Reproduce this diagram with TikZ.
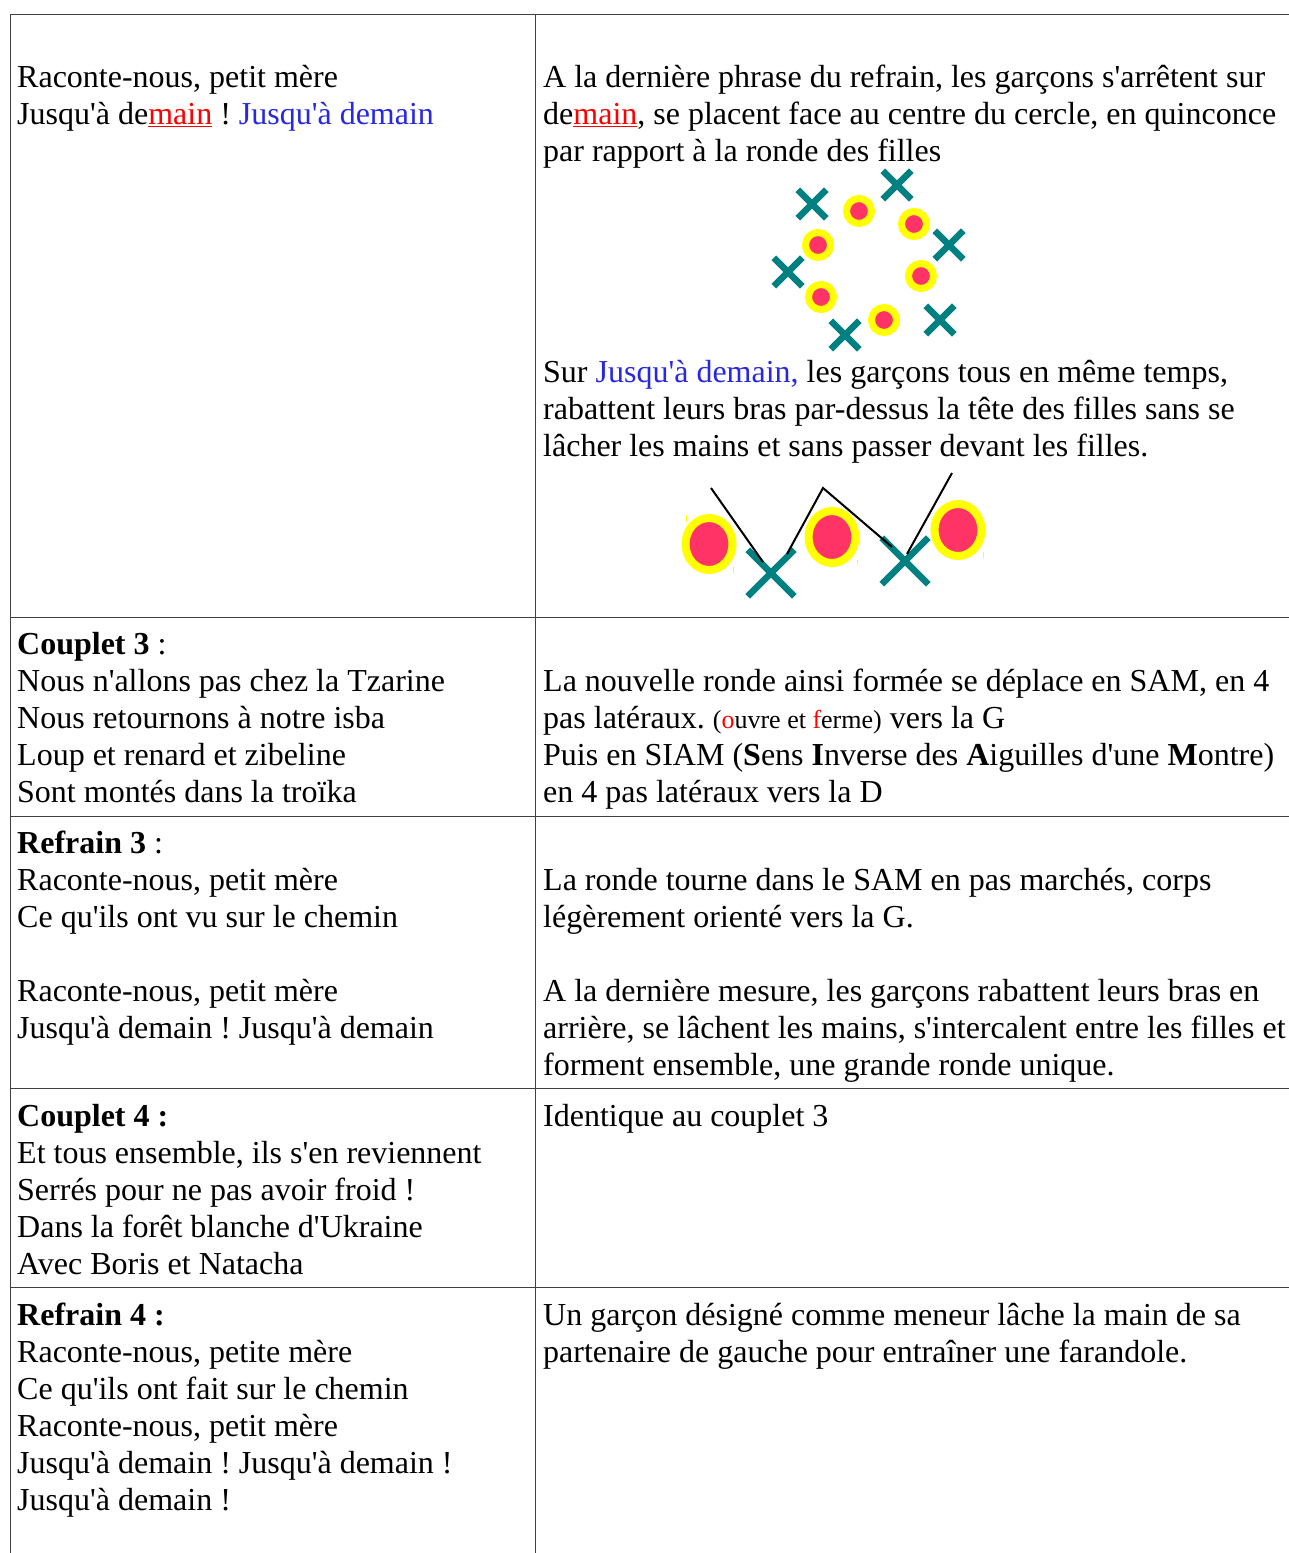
\documentclass[tikz,border=0pt]{standalone}
\usepackage{fontspec}
\newfontfamily\tnr{Liberation Serif}
\usetikzlibrary{shapes.geometric,shapes.misc}
\definecolor{tblue}{RGB}{40,40,225}
\definecolor{boyc}{RGB}{0,128,128}
\definecolor{girlred}{RGB}{255,51,102}
\definecolor{gridc}{RGB}{64,64,64}
\definecolor{ringc}{RGB}{255,255,0}
\frenchspacing
\newcommand\nsp{\spaceskip=0pt\xspaceskip=0pt\relax}
\begin{document}
\begin{tikzpicture}[x=1pt,y=-1pt,
  gridline/.style={draw=gridc,line width=1pt},
  cellL/.style={anchor=base west,inner sep=0pt,text width=510pt,align=left,font=\tnr\frenchspacing\fontsize{32}{37}\selectfont},
  cellR/.style={anchor=base west,inner sep=0pt,text width=820pt,align=left,font=\tnr\frenchspacing\fontsize{32}{37}\selectfont},
  girl/.style={circle,draw=ringc,fill=girlred,line width=7pt,minimum size=25pt,inner sep=0pt},
  biggirl/.style={ellipse,draw=ringc,fill=girlred,line width=8pt,minimum width=47pt,minimum height=52pt,inner sep=0pt},
  boy/.style={cross out,draw=boyc,line width=6.5pt,minimum size=22pt,inner sep=0pt},
  bigboy/.style={cross out,draw=boyc,line width=6.5pt,minimum size=40pt,inner sep=0pt},
  arm/.style={draw=black,line width=2pt},
  speck/.style={draw=ringc,line width=1pt}]
\useasboundingbox (0,0) rectangle (1289,1553);
\fill[white] (0,0) rectangle (1289,1553);
% table rules
\draw[gridline] (10,1553) -- (10,14) -- (1289,14);
\draw[gridline] (535,14) -- (535,1553);
\draw[gridline] (10,617) -- (1289,617);
\draw[gridline] (10,816) -- (1289,816);
\draw[gridline] (10,1088) -- (1289,1088);
\draw[gridline] (10,1287) -- (1289,1287);
% row 1
\node[cellL] (r1l) at (17,87) {\nsp Raconte-nous, petit mère\\Jusqu'à de\textcolor{red}{\underline{main}} ! \textcolor{tblue}{Jusqu'à demain}};
\node[cellR] (r1a) at (543,87) {\nsp A la dernière phrase du refrain, les garçons s'arrêtent sur\\de\textcolor{red}{\underline{main}}, se placent face au centre du cercle, en quinconce\\par rapport à la ronde des filles};
\node[cellR] (r1b) at (543,382) {\nsp Sur \textcolor{tblue}{Jusqu'à demain,} les garçons tous en même temps,\\rabattent leurs bras par-dessus la tête des filles sans se\\lâcher les mains et sans passer devant les filles.};
% row 2
\node[cellL] (r2l) at (17,654) {\nsp\textbf{Couplet 3} :\\Nous n'allons pas chez la Tzarine\\Nous retournons à notre isba\\Loup et renard et zibeline\\Sont montés dans la troïka};
\node[cellR] (r2r) at (543,691) {\nsp La nouvelle ronde ainsi formée se déplace en SAM, en 4\\pas latéraux. {\fontsize{26}{37}\selectfont(\textcolor{red}{o}uvre et \textcolor{red}{f}erme)} vers la G\\Puis en SIAM (\textbf{S}ens \textbf{I}nverse des \textbf{A}iguilles d'une \textbf{M}ontre)\\en 4 pas latéraux vers la D};
% row 3
\node[cellL] (r3l) at (17,853) {\nsp\textbf{Refrain 3} :\\Raconte-nous, petit mère\\Ce qu'ils ont vu sur le chemin\\[37pt]Raconte-nous, petit mère\\Jusqu'à demain ! Jusqu'à demain};
\node[cellR] (r3r) at (543,890) {\nsp La ronde tourne dans le SAM en pas marchés, corps\\légèrement orienté vers la G.\\[37pt]A la dernière mesure, les garçons rabattent leurs bras en\\arrière, se lâchent les mains, s'intercalent entre les filles et\\forment ensemble, une grande ronde unique.};
% row 4
\node[cellL] (r4l) at (17,1126) {\nsp\textbf{Couplet 4 :}\\Et tous ensemble, ils s'en reviennent\\Serrés pour ne pas avoir froid !\\Dans la forêt blanche d'Ukraine\\Avec Boris et Natacha};
\node[cellR] (r4r) at (543,1126) {\nsp Identique au couplet 3};
% row 5
\node[cellL] (r5l) at (17,1325) {\nsp\textbf{Refrain 4 :}\\Raconte-nous, petite mère\\Ce qu'ils ont fait sur le chemin\\Raconte-nous, petit mère\\Jusqu'à demain ! Jusqu'à demain !\\Jusqu'à demain !};
\node[cellR] (r5r) at (543,1325) {\nsp Un garçon désigné comme meneur lâche la main de sa\\partenaire de gauche pour entraîner une farandole.};
% circle diagram
\node[girl] (g1) at (859,211) {};
\node[girl] (g2) at (914,224) {};
\node[girl] (g3) at (818,245) {};
\node[girl] (g4) at (921,276) {};
\node[girl] (g5) at (821,297) {};
\node[girl] (g6) at (884,320) {};
\node[boy] (b1) at (812,204) {};
\node[boy] (b2) at (897,185) {};
\node[boy] (b3) at (949,245) {};
\node[boy] (b4) at (788,272) {};
\node[boy] (b5) at (940,320) {};
\node[boy] (b6) at (845,335) {};
% arms diagram
\node[biggirl] (G1) at (709,544) {};
\node[biggirl] (G2) at (832,537) {};
\node[biggirl] (G3) at (958,530) {};
\node[bigboy] (B1) at (771,573) {};
\node[bigboy] (B2) at (905,561) {};
\draw[speck] (686,515) -- (686,522);
\draw[speck] (733,567) -- (733,573);
\draw[speck] (810,507) -- (810,512);
\draw[speck] (857,560) -- (857,565);
\draw[speck] (983,552) -- (983,558);
\coordinate (a1) at (711,488);
\coordinate (a2) at (763,562);
\coordinate (p1) at (787,554);
\coordinate (p2) at (823,488);
\coordinate (p3) at (892,547);
\coordinate (c1) at (907,554);
\coordinate (c2) at (952,473);
\draw[arm] (a1) -- (a2);
\draw[arm] (p1) -- (p2) -- (p3);
\draw[arm] (c1) -- (c2);
\end{tikzpicture}
\end{document}
